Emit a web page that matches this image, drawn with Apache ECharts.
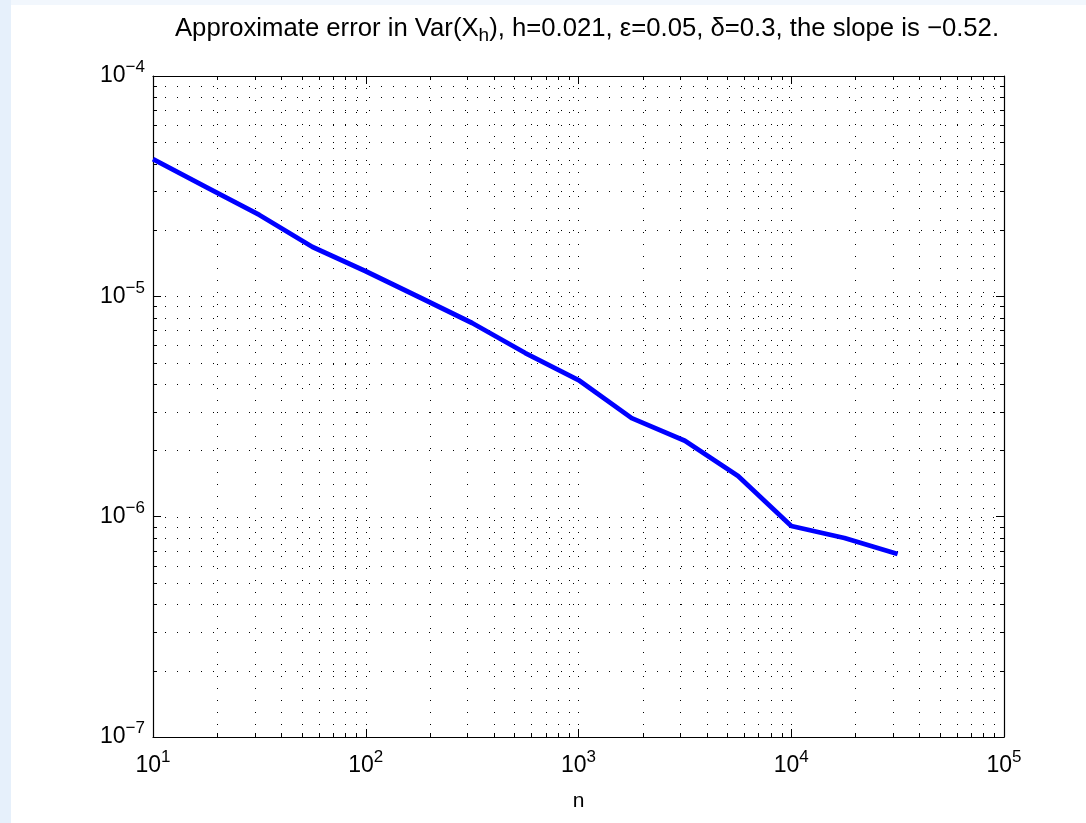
<!DOCTYPE html>
<html>
<head>
<meta charset="utf-8">
<script src="https://cdn.jsdelivr.net/npm/echarts@6/dist/echarts.min.js"></script>
<style>
html, body { margin: 0; padding: 0; background: #fff; }
#chart { width: 1086px; height: 823px; }
</style>
</head>
<body>
<div id="chart"></div>
<script>
// ---- data ----
const nValues = [10, 17.78, 31.62, 56.23, 100, 177.8, 316.2, 562.3, 1000, 1778, 3162, 5623, 10000, 17783, 31623];
const errValues = [4.2e-5, 3.13e-5, 2.34e-5, 1.675e-5, 1.30e-5, 9.93e-6, 7.57e-6, 5.53e-6, 4.17e-6, 2.80e-6, 2.21e-6, 1.53e-6, 9.07e-7, 8.0e-7, 6.77e-7];
const xDecades = [10, 100, 1000, 10000];
const yDecades = [1e-7, 1e-6, 1e-5];
const multipliers = [1, 2, 3, 4, 5, 6, 7, 8, 9];
const xRange = [10, 100000];
const yRange = [1e-7, 1e-4];
const titleParts = ['Approximate error in Var(X', 'h', '), h=0.021, \u03b5=0.05, \u03b4=0.3, the slope is \u22120.52.'];
const xName = 'n';

const FONT = '"Liberation Sans", Arial, Helvetica, sans-serif';

const xGrid = [];
xDecades.forEach(d => multipliers.forEach(m => { const v = m * d; if (v > xRange[0]) xGrid.push([v, 1e-6, m === 1 ? 1 : 0]); }));
const yGrid = [];
yDecades.forEach(d => multipliers.forEach(m => { const v = m * d; if (v > yRange[0]) yGrid.push([100, v, m === 1 ? 1 : 0]); }));

function powLabel(value) {
  const e = Math.round(Math.log10(value));
  const s = e < 0 ? '\u2212' + Math.abs(e) : String(e);
  return '{b|10}{s|' + s + '}';
}
const labelRich = {
  b: { fontSize: 23, fontFamily: FONT, color: '#000' },
  s: { fontSize: 17, fontFamily: FONT, color: '#000', padding: [0, 0, 17, 0] }
};

const DOT = { stroke: '#000', lineWidth: 1, lineDash: [1, 11] };
const TICK = { stroke: '#000', lineWidth: 1 };

function renderXGrid(params, api) {
  const p = api.coord([api.value(0), api.value(1)]);
  const cs = params.coordSys;
  const x = Math.round(p[0]) + 0.5;
  const top = cs.y, bot = cs.y + cs.height;
  const ch = [{ type: 'line', shape: { x1: x, y1: bot, x2: x, y2: top }, style: DOT }];
  if (!api.value(2)) {
    ch.push({ type: 'line', shape: { x1: x, y1: bot, x2: x, y2: bot - 4 }, style: TICK });
    ch.push({ type: 'line', shape: { x1: x, y1: top, x2: x, y2: top + 4 }, style: TICK });
  }
  return { type: 'group', children: ch };
}
function renderYGrid(params, api) {
  const p = api.coord([api.value(0), api.value(1)]);
  const cs = params.coordSys;
  const y = Math.round(p[1]) + 0.5;
  const l = cs.x, r = cs.x + cs.width;
  const ch = [{ type: 'line', shape: { x1: l, y1: y, x2: r, y2: y }, style: DOT }];
  if (!api.value(2)) {
    ch.push({ type: 'line', shape: { x1: l, y1: y, x2: l + 4, y2: y }, style: TICK });
    ch.push({ type: 'line', shape: { x1: r, y1: y, x2: r - 4, y2: y }, style: TICK });
  }
  return { type: 'group', children: ch };
}

const axisCommon = {
  type: 'log', logBase: 10,
  axisLine: { show: true, onZero: false, lineStyle: { color: '#000', width: 1.2 } },
  axisTick: { show: true, inside: true, length: 8, lineStyle: { color: '#000', width: 1 } },
  splitLine: { show: false },
  minorTick: { show: false },
  minorSplitLine: { show: false }
};

const chart = echarts.init(document.getElementById('chart'), null, { renderer: 'canvas' });
chart.setOption({
  backgroundColor: '#fff',
  animation: false,
  grid: { left: 153, right: 82, top: 76, bottom: 86, containLabel: false },
  graphic: [
    { type: 'rect', left: 0, top: 0, shape: { width: 1086, height: 5 }, style: { fill: '#f2f7fd' }, z: -10 },
    { type: 'rect', left: 0, top: 0, shape: { width: 11, height: 823 }, style: { fill: '#e6f0fb' }, z: -10 },
    {
      type: 'text', x: 587, y: 12, z: 10,
      style: {
        text: '{t|' + titleParts[0] + '}{h|' + titleParts[1] + '}{t|' + titleParts[2] + '}',
        align: 'center',
        fontSize: 25.7, fontFamily: FONT, fill: '#000',
        rich: {
          t: { fontSize: 25.7, fontFamily: FONT, fill: '#000' },
          h: { fontSize: 19, fontFamily: FONT, fill: '#000', padding: [14, 0, 0, 0] }
        }
      }
    }
  ],
  xAxis: [
    Object.assign({}, axisCommon, {
      position: 'bottom', min: xRange[0], max: xRange[1],
      axisLabel: { show: true, margin: 12, fontSize: 23, fontFamily: FONT, color: '#000', formatter: powLabel, rich: labelRich },
      name: xName, nameLocation: 'middle', nameGap: 54,
      nameTextStyle: { fontSize: 21, fontFamily: FONT, color: '#000' }
    }),
    Object.assign({}, axisCommon, { position: 'top', min: xRange[0], max: xRange[1], axisLabel: { show: false } })
  ],
  yAxis: [
    Object.assign({}, axisCommon, {
      position: 'left', min: yRange[0], max: yRange[1],
      axisLabel: { show: true, margin: 8, fontSize: 23, fontFamily: FONT, color: '#000', formatter: powLabel, rich: labelRich }
    }),
    Object.assign({}, axisCommon, { position: 'right', min: yRange[0], max: yRange[1], axisLabel: { show: false } })
  ],
  series: [
    { type: 'custom', renderItem: renderXGrid, data: xGrid, xAxisIndex: 0, yAxisIndex: 0, silent: true, z: 1, clip: false },
    { type: 'custom', renderItem: renderYGrid, data: yGrid, xAxisIndex: 0, yAxisIndex: 0, silent: true, z: 1, clip: false },
    {
      type: 'line', data: nValues.map((n, i) => [n, errValues[i]]),
      xAxisIndex: 0, yAxisIndex: 0,
      showSymbol: false, symbol: 'none', z: 5,
      lineStyle: { color: '#0000ff', width: 4.8, join: 'round', cap: 'butt' }
    }
  ]
});
</script>
</body>
</html>
